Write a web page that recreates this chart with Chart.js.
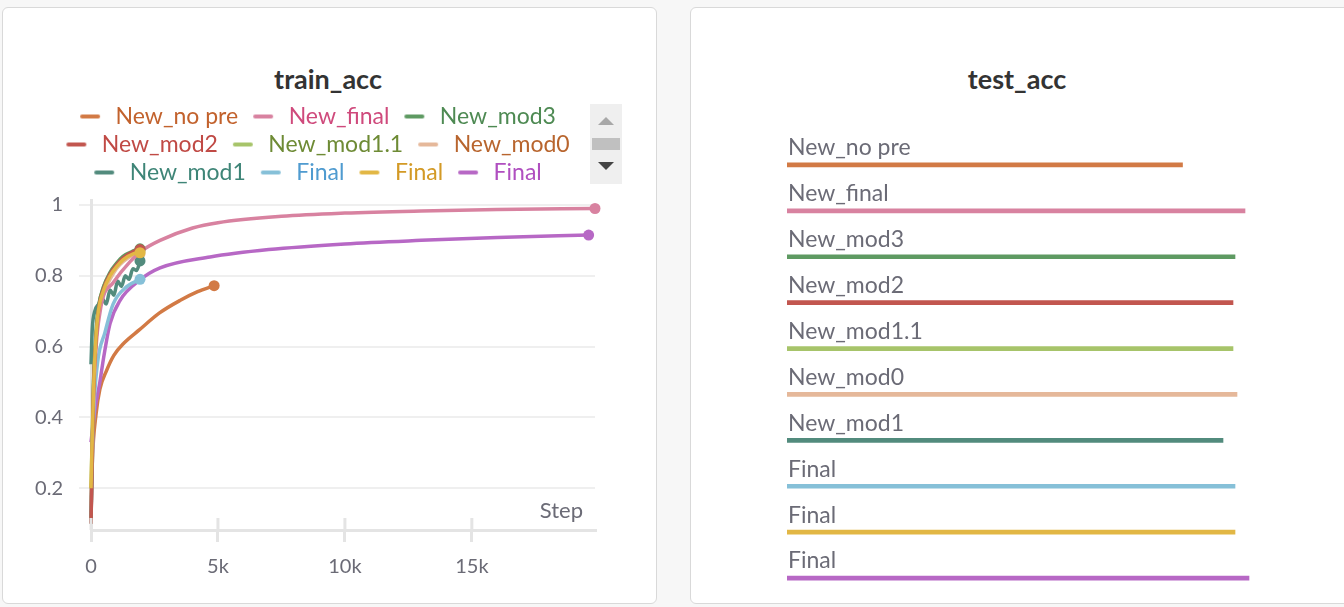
<!DOCTYPE html>
<html>
<head>
<meta charset="utf-8">
<script src="https://cdn.jsdelivr.net/npm/chart.js@4.4.1/dist/chart.umd.min.js"></script>
<style>
  body { margin: 0; width: 1344px; height: 607px; background: #f7f7f7; overflow: hidden; position: relative; font-family: Lato, sans-serif; }
  .panel { position: absolute; top: 7px; height: 597px; background: #fff; border: 1.5px solid #d9d9d9; border-radius: 6px; box-sizing: border-box; }
  #leftPanel { left: 2px; width: 655px; }
  #rightPanel { left: 690px; width: 680px; }
  .title { position: absolute; top: 63px; font-weight: bold; font-size: 27px; line-height: 32px; color: #333; transform: translateX(-50%); white-space: nowrap; }
  canvas { position: absolute; }
  #scroller { position: absolute; left: 590px; top: 104px; width: 32px; height: 80px; background: #efefef; }
  #scroller .up { position: absolute; left: 8px; top: 13px; width: 0; height: 0; border-left: 8px solid transparent; border-right: 8px solid transparent; border-bottom: 8px solid #a8a8a8; }
  #scroller .thumb { position: absolute; left: 2px; top: 34px; width: 28px; height: 12px; background: #c0c0c0; }
  #scroller .down { position: absolute; left: 8px; top: 58px; width: 0; height: 0; border-left: 8px solid transparent; border-right: 8px solid transparent; border-top: 8px solid #444; }
</style>
</head>
<body>
<div class="panel" id="leftPanel"></div>
<div class="panel" id="rightPanel"></div>
<div class="title" style="left:328px">train_acc</div>
<div class="title" style="left:1017px">test_acc</div>
<canvas id="trainChart" width="581" height="480" style="left:31px;top:100px;width:581px;height:480px"></canvas>
<canvas id="testChart" width="500" height="489" style="left:787px;top:112px;width:500px;height:489px"></canvas>
<div id="scroller"><div class="up"></div><div class="thumb"></div><div class="down"></div></div>
<script>
// run names, in legend order
const runNames = ['New_no pre', 'New_final', 'New_mod3', 'New_mod2', 'New_mod1.1', 'New_mod0', 'New_mod1', 'Final', 'Final', 'Final'];
const lineColors = ['#d27a45', '#d882a0', '#5e9a62', '#c2564f', '#a7c46a', '#e5b89a', '#528b7d', '#86c0d8', '#e2b745', '#b768c5'];
const legendTextColors = ['#c2622d', '#cf4a7c', '#4e8a53', '#c04a45', '#6e8b35', '#b8652e', '#3e8577', '#4f9bd0', '#d39a26', '#b04fc0'];
const drawOrder = [10, 4, 3, 2, 6, 7, 5, 8, 1, 9];

// train_acc (smoothed) per run
const noPreSteps = [0, 50, 200, 350, 600, 900, 1300, 1900, 2700, 3500, 4200, 4850];
const noPreAcc = [0.12, 0.27, 0.41, 0.48, 0.53, 0.575, 0.61, 0.647, 0.695, 0.73, 0.755, 0.772];
const newFinalSteps = [0, 100, 350, 870, 1540, 2050, 2720, 4000, 5000, 7500, 10000, 13000, 16000, 19850];
const newFinalAcc = [0.1, 0.45, 0.695, 0.78, 0.84, 0.873, 0.9, 0.935, 0.95, 0.968, 0.977, 0.983, 0.987, 0.99];
const shortSteps = [0, 100, 200, 290, 500, 750, 1000, 1260, 1660, 1930];
const mod3Acc = [0.1, 0.5, 0.64, 0.71, 0.77, 0.81, 0.835, 0.855, 0.87, 0.876];
const mod2Acc = [0.1, 0.48, 0.62, 0.7, 0.765, 0.805, 0.83, 0.85, 0.868, 0.874];
const mod11Acc = [0.2, 0.5, 0.64, 0.71, 0.77, 0.805, 0.83, 0.85, 0.865, 0.87];
const mod0Acc = [0.15, 0.46, 0.62, 0.69, 0.75, 0.79, 0.82, 0.84, 0.858, 0.862];
const mod1Steps = [0, 50, 150, 300, 450, 600, 750, 900, 1050, 1200, 1350, 1500, 1650, 1800, 1930];
const mod1Acc = [0.55, 0.65, 0.7, 0.72, 0.735, 0.72, 0.76, 0.745, 0.785, 0.77, 0.8, 0.79, 0.82, 0.815, 0.842];
const finalBlueSteps = [0, 100, 250, 550, 870, 1420, 1930];
const finalBlueAcc = [0.12, 0.4, 0.55, 0.64, 0.72, 0.77, 0.79];
const finalYellowAcc = [0.2, 0.48, 0.63, 0.7, 0.76, 0.8, 0.825, 0.845, 0.862, 0.865];
const finalPurpleSteps = [0, 150, 350, 500, 750, 1140, 1930, 2720, 4690, 7000, 10000, 13000, 16000, 19600];
const finalPurpleAcc = [0.33, 0.42, 0.5, 0.57, 0.665, 0.73, 0.788, 0.822, 0.853, 0.874, 0.89, 0.9, 0.908, 0.915];

const runSteps = [noPreSteps, newFinalSteps, shortSteps, shortSteps, shortSteps, shortSteps, mod1Steps, finalBlueSteps, shortSteps, finalPurpleSteps];
const runAcc = [noPreAcc, newFinalAcc, mod3Acc, mod2Acc, mod11Acc, mod0Acc, mod1Acc, finalBlueAcc, finalYellowAcc, finalPurpleAcc];

// test_acc per run
const testAcc = [0.791, 0.916, 0.896, 0.892, 0.892, 0.9, 0.872, 0.896, 0.896, 0.924];

const xTicks = [0, 5000, 10000, 15000];
const yTicks = [0.2, 0.4, 0.6, 0.8, 1];

const axisGrey = '#e4e4e4';
const textGrey = '#6b6b76';

function markerFor(color) {
	const c = document.createElement('canvas');
	c.width = 34; c.height = 6;
	const g = c.getContext('2d');
	g.strokeStyle = color; g.lineWidth = 4; g.lineCap = 'round';
	g.beginPath(); g.moveTo(12, 3); g.lineTo(28, 3); g.stroke();
	return c;
}

const trainDatasets = runNames.map(function (name, i) {
	return {
		label: name,
		data: runSteps[i].map(function (s, j) { return { x: s, y: runAcc[i][j] }; }),
		borderColor: lineColors[i],
		backgroundColor: lineColors[i],
		borderWidth: 3.5,
		cubicInterpolationMode: 'monotone',
		order: drawOrder[i],
		clip: 10,
		pointRadius: function (ctx) { return ctx.dataIndex === ctx.dataset.data.length - 1 ? 5.5 : 0; },
		pointBorderWidth: 0,
		pointHoverRadius: 0
	};
});

// "Step" inside the plot and the short tick marks above the x axis
const stepLabel = {
	id: 'stepLabel',
	afterDraw: function (chart) {
		const { ctx, chartArea } = chart;
		const x = chart.scales.x;
		ctx.save();
		ctx.strokeStyle = axisGrey;
		ctx.lineWidth = 3;
		x.ticks.forEach(function (t) {
			const px = x.getPixelForValue(t.value);
			ctx.beginPath(); ctx.moveTo(px, chartArea.bottom - 12); ctx.lineTo(px, chartArea.bottom); ctx.stroke();
		});
		ctx.font = '22px Lato';
		ctx.fillStyle = textGrey;
		ctx.textAlign = 'right';
		ctx.textBaseline = 'middle';
		ctx.fillText('Step', chartArea.right - 12, chartArea.bottom - 19);
		ctx.restore();
	}
};

new Chart(document.getElementById('trainChart'), {
	type: 'line',
	data: { datasets: trainDatasets },
	options: {
		responsive: false,
		animation: false,
		layout: { padding: { right: 17 } },
		plugins: {
			tooltip: { enabled: false },
			legend: {
				position: 'top',
				align: 'center',
				labels: {
					font: { family: 'Lato', size: 23 },
					padding: 5,
					usePointStyle: true,
					pointStyleWidth: 34,
					generateLabels: function (chart) {
						return chart.data.datasets.map(function (ds, i) {
							return {
								text: ds.label,
								fontColor: legendTextColors[i],
								pointStyle: markerFor(lineColors[i]),
								fillStyle: lineColors[i],
								strokeStyle: lineColors[i],
								lineWidth: 0,
								hidden: false,
								datasetIndex: i
							};
						});
					}
				}
			}
		},
		scales: {
			x: {
				type: 'linear',
				min: 0,
				max: 19850,
				afterFit: function (s) { s.height = 50; },
				afterBuildTicks: function (s) { s.ticks = xTicks.map(function (v) { return { value: v }; }); },
				border: { color: axisGrey, width: 3 },
				grid: { drawOnChartArea: false, color: axisGrey, lineWidth: 3, tickLength: 12 },
				ticks: {
					color: textGrey,
					font: { family: 'Lato', size: 20 },
					padding: 13,
					maxRotation: 0,
					callback: function (v) { return v === 0 ? '0' : (v / 1000) + 'k'; }
				}
			},
			xTop: {
				type: 'linear',
				position: 'top',
				afterFit: function (s) { s.height = 6; },
				grid: { display: false },
				border: { display: false },
				ticks: { display: false }
			},
			y: {
				min: 0.082,
				max: 1.014,
				afterFit: function (s) { s.width = 60; },
				afterBuildTicks: function (s) { s.ticks = yTicks.map(function (v) { return { value: v }; }); },
				border: { color: axisGrey, width: 3 },
				grid: { color: '#efefef', lineWidth: 2, tickLength: 12 },
				ticks: {
					color: textGrey,
					font: { family: 'Lato', size: 20 },
					padding: 16,
					callback: function (v) { return String(+v.toFixed(1)); }
				}
			}
		}
	},
	plugins: [stepLabel]
});

// run names written above each thin bar
const barLabels = {
	id: 'barLabels',
	afterDatasetsDraw: function (chart) {
		const ctx = chart.ctx;
		const meta = chart.getDatasetMeta(0);
		ctx.save();
		ctx.font = '23px Lato';
		ctx.fillStyle = textGrey;
		ctx.textAlign = 'left';
		ctx.textBaseline = 'middle';
		meta.data.forEach(function (bar, i) {
			ctx.fillText(chart.data.labels[i], chart.chartArea.left + 1, bar.y - 17);
		});
		ctx.restore();
	}
};

new Chart(document.getElementById('testChart'), {
	type: 'bar',
	data: {
		labels: runNames,
		datasets: [{
			data: testAcc,
			backgroundColor: lineColors,
			barThickness: 4,
			borderWidth: 0
		}]
	},
	options: {
		indexAxis: 'y',
		responsive: false,
		animation: false,
		layout: { padding: { top: 30 } },
		plugins: { legend: { display: false }, tooltip: { enabled: false } },
		scales: {
			x: { min: 0, max: 1, display: false },
			y: { display: false }
		}
	},
	plugins: [barLabels]
});
</script>
</body>
</html>
